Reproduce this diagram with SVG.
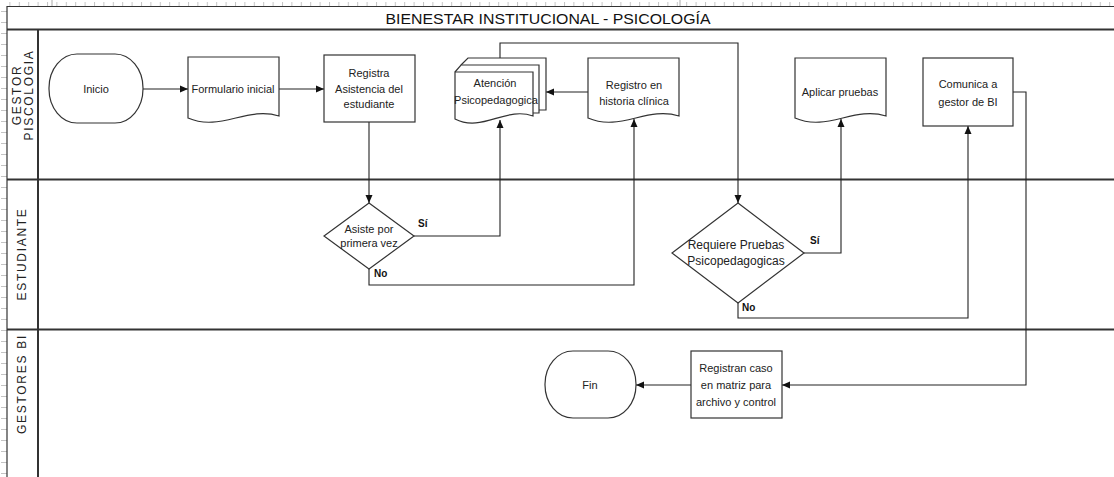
<svg xmlns="http://www.w3.org/2000/svg" width="1114" height="477" viewBox="0 0 1114 477">
  <style>
    .frame { fill: none; stroke: #333; stroke-width: 1.2; }
    .lane { fill: none; stroke: #333; stroke-width: 2; }
    .shape { fill: #fff; stroke: #333; stroke-width: 1.2; }
    .conn { fill: none; stroke: #222; stroke-width: 1.1; }
    .t { font-family: "Liberation Sans", Arial, sans-serif; font-size: 11px; fill: #222; text-anchor: middle; }
    .big { font-size: 12px; }
    .lbl { font-family: "Liberation Sans", Arial, sans-serif; font-size: 10px; font-weight: bold; fill: #111; }
    .lanelbl { font-family: "Liberation Sans", Arial, sans-serif; font-size: 12px; letter-spacing: 1.7px; fill: #222; text-anchor: middle; }
    .title { font-family: "Liberation Sans", Arial, sans-serif; font-size: 14px; fill: #111; text-anchor: middle; }
  </style>
  <defs>
    <marker id="arrow" viewBox="0 0 8 8" refX="8" refY="4" markerWidth="8" markerHeight="8" markerUnits="userSpaceOnUse" orient="auto">
      <path d="M0,0.5 L8,4 L0,7.5 Z" fill="#111"/>
    </marker>
    <pattern id="rulerTop" width="9.4" height="6" patternUnits="userSpaceOnUse">
      <line x1="0.5" y1="2" x2="0.5" y2="6" stroke="#c4c4c4" stroke-width="1"/>
    </pattern>
    <pattern id="rulerLeft" width="7" height="11" patternUnits="userSpaceOnUse">
      <line x1="1" y1="0.5" x2="7" y2="0.5" stroke="#c4c4c4" stroke-width="1"/>
    </pattern>
  </defs>

  <rect width="1114" height="477" fill="#fff"/>

  <!-- page rulers -->
  <rect x="7" y="0" width="1107" height="6" fill="url(#rulerTop)"/>
  <rect x="0" y="6" width="7" height="471" fill="url(#rulerLeft)"/>
  <line x1="52" y1="0" x2="52" y2="6" stroke="#aaa"/>
  <line x1="680" y1="0" x2="680" y2="6" stroke="#aaa"/>

  <!-- pool, title band and swimlanes -->
  <g id="pool">
    <line class="frame" x1="7" y1="6.5" x2="1114" y2="6.5"/>
    <line class="frame" x1="7" y1="6" x2="7" y2="477"/>
    <line class="lane" x1="7" y1="29.5" x2="1114" y2="29.5"/>
    <line class="lane" x1="38" y1="29" x2="38" y2="477"/>
    <line class="lane" x1="7" y1="179.5" x2="1114" y2="179.5"/>
    <line class="lane" x1="7" y1="329.5" x2="1114" y2="329.5"/>
    <text class="title" x="548" y="24" textLength="325" lengthAdjust="spacingAndGlyphs">BIENESTAR INSTITUCIONAL - PSICOLOGÍA</text>
  </g>

  <g id="lane-gestor-psicologia">
    <text class="lanelbl" transform="translate(21,95) rotate(-90)">GESTOR</text>
    <text class="lanelbl" transform="translate(33,95) rotate(-90)">PISCOLOGIA</text>
  </g>
  <g id="lane-estudiante">
    <text class="lanelbl" transform="translate(26,254) rotate(-90)">ESTUDIANTE</text>
  </g>
  <g id="lane-gestores-bi">
    <text class="lanelbl" transform="translate(26,384) rotate(-90)">GESTORES BI</text>
  </g>

  <!-- connectors -->
  <g id="connectors">
    <path class="conn" d="M143,89 H188" marker-end="url(#arrow)"/>
    <path class="conn" d="M279,89 H324" marker-end="url(#arrow)"/>
    <path class="conn" d="M369,122 V203" marker-end="url(#arrow)"/>
    <path class="conn" d="M414,236 H500 V120" marker-end="url(#arrow)"/>
    <path class="conn" d="M369,269 V285 H634 V119" marker-end="url(#arrow)"/>
    <path class="conn" d="M588,92 H546" marker-end="url(#arrow)"/>
    <path class="conn" d="M500,58 V43 H738 V203" marker-end="url(#arrow)"/>
    <path class="conn" d="M804,253 H841 V119" marker-end="url(#arrow)"/>
    <path class="conn" d="M738,303 V318 H968 V126" marker-end="url(#arrow)"/>
    <path class="conn" d="M1013,92 H1026 V385 H782" marker-end="url(#arrow)"/>
    <path class="conn" d="M691,385 H636" marker-end="url(#arrow)"/>
    <text class="lbl" x="418" y="227">Sí</text>
    <text class="lbl" x="374" y="277">No</text>
    <text class="lbl" x="810" y="244">Sí</text>
    <text class="lbl" x="742" y="311">No</text>
  </g>

  <!-- nodes -->
  <g id="inicio">
    <rect class="shape" x="49" y="54" width="94" height="69" rx="28" ry="34"/>
    <text class="t" x="96" y="93">Inicio</text>
  </g>

  <g id="formulario-inicial">
    <path class="shape" d="M188,57 H279 V116 C247,106 220,132 188,118 Z"/>
    <text class="t" x="233" y="93">Formulario inicial</text>
  </g>

  <g id="registra-asistencia">
    <rect class="shape" x="324" y="55" width="91" height="67"/>
    <text class="t" x="369" y="77">Registra</text>
    <text class="t" x="369" y="93">Asistencia del</text>
    <text class="t" x="369" y="108">estudiante</text>
  </g>

  <g id="atencion-psicopedagogica">
    <path class="shape" d="M461,65 L468,58 H546 V110 H539"/>
    <path class="shape" d="M455,72 L461,65 H539 V113 H533"/>
    <path class="shape" d="M455,72 H533 V116 C506,106 482,133 455,119 Z"/>
    <text class="t" x="495" y="87">Atención</text>
    <text class="t" x="496" y="104">Psicopedagogica</text>
  </g>

  <g id="registro-historia">
    <path class="shape" d="M588,58 H679 V116 C647,106 620,132 588,118 Z"/>
    <text class="t" x="634" y="89">Registro en</text>
    <text class="t" x="634" y="105">historia clínica</text>
  </g>

  <g id="aplicar-pruebas">
    <path class="shape" d="M795,58 H886 V116 C854,106 827,132 795,118 Z"/>
    <text class="t" x="840" y="96">Aplicar pruebas</text>
  </g>

  <g id="comunica-gestor">
    <rect class="shape" x="923" y="58" width="90" height="68"/>
    <text class="t" x="968" y="88">Comunica a</text>
    <text class="t" x="968" y="106">gestor de BI</text>
  </g>

  <g id="asiste-primera-vez">
    <path class="shape" d="M369,203 L414,236 L369,269 L324,236 Z"/>
    <text class="t" x="369" y="233">Asiste por</text>
    <text class="t" x="369" y="247">primera vez</text>
  </g>

  <g id="requiere-pruebas">
    <path class="shape" d="M738,203 L804,253 L738,303 L672,253 Z"/>
    <text class="t big" x="736" y="249">Requiere Pruebas</text>
    <text class="t big" x="736" y="265">Psicopedagogicas</text>
  </g>

  <g id="registran-caso">
    <rect class="shape" x="691" y="351" width="91" height="67"/>
    <text class="t" x="736" y="372">Registran caso</text>
    <text class="t" x="736" y="389">en matriz para</text>
    <text class="t" x="736" y="406">archivo y control</text>
  </g>

  <g id="fin">
    <rect class="shape" x="545" y="351" width="91" height="67" rx="28" ry="33"/>
    <text class="t" x="590" y="389">Fin</text>
  </g>
</svg>
